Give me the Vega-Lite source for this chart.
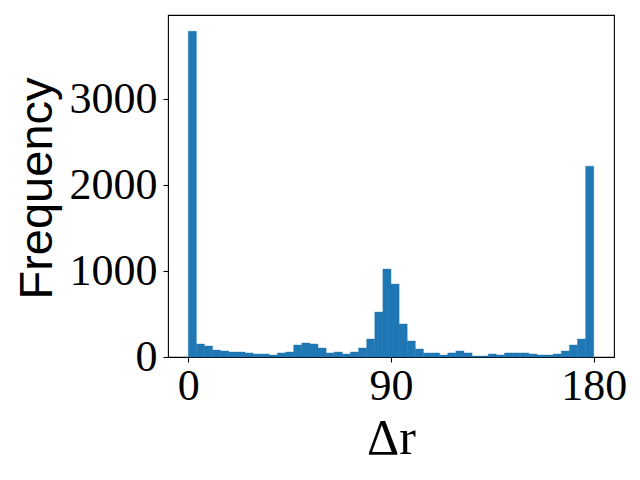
{
  "$schema": "https://vega.github.io/schema/vega-lite/v6.json",
  "autosize": "none",
  "width": 446,
  "height": 342,
  "padding": {"left": 168, "top": 15, "right": 26, "bottom": 123},
  "background": "white",
  "config": {"view": {"stroke": "black", "strokeWidth": 1.1}},
  "data": {"values": [
    {"start": 0, "end": 3.6, "count": 3791},
    {"start": 3.6, "end": 7.2, "count": 151},
    {"start": 7.2, "end": 10.8, "count": 128},
    {"start": 10.8, "end": 14.4, "count": 81},
    {"start": 14.4, "end": 18, "count": 70},
    {"start": 18, "end": 21.6, "count": 58},
    {"start": 21.6, "end": 25.2, "count": 58},
    {"start": 25.2, "end": 28.8, "count": 47},
    {"start": 28.8, "end": 32.4, "count": 35},
    {"start": 32.4, "end": 36, "count": 35},
    {"start": 36, "end": 39.6, "count": 23},
    {"start": 39.6, "end": 43.2, "count": 47},
    {"start": 43.2, "end": 46.8, "count": 58},
    {"start": 46.8, "end": 50.4, "count": 140},
    {"start": 50.4, "end": 54, "count": 163},
    {"start": 54, "end": 57.6, "count": 151},
    {"start": 57.6, "end": 61.2, "count": 105},
    {"start": 61.2, "end": 64.8, "count": 47},
    {"start": 64.8, "end": 68.4, "count": 58},
    {"start": 68.4, "end": 72, "count": 35},
    {"start": 72, "end": 75.6, "count": 58},
    {"start": 75.6, "end": 79.2, "count": 105},
    {"start": 79.2, "end": 82.8, "count": 209},
    {"start": 82.8, "end": 86.4, "count": 523},
    {"start": 86.4, "end": 90, "count": 1023},
    {"start": 90, "end": 93.6, "count": 849},
    {"start": 93.6, "end": 97.2, "count": 384},
    {"start": 97.2, "end": 100.8, "count": 186},
    {"start": 100.8, "end": 104.4, "count": 93},
    {"start": 104.4, "end": 108, "count": 47},
    {"start": 108, "end": 111.6, "count": 47},
    {"start": 111.6, "end": 115.2, "count": 23},
    {"start": 115.2, "end": 118.8, "count": 47},
    {"start": 118.8, "end": 122.4, "count": 70},
    {"start": 122.4, "end": 126, "count": 47},
    {"start": 126, "end": 129.6, "count": 12},
    {"start": 129.6, "end": 133.2, "count": 12},
    {"start": 133.2, "end": 136.8, "count": 35},
    {"start": 136.8, "end": 140.4, "count": 23},
    {"start": 140.4, "end": 144, "count": 47},
    {"start": 144, "end": 147.6, "count": 47},
    {"start": 147.6, "end": 151.2, "count": 47},
    {"start": 151.2, "end": 154.8, "count": 35},
    {"start": 154.8, "end": 158.4, "count": 23},
    {"start": 158.4, "end": 162, "count": 23},
    {"start": 162, "end": 165.6, "count": 35},
    {"start": 165.6, "end": 169.2, "count": 70},
    {"start": 169.2, "end": 172.8, "count": 140},
    {"start": 172.8, "end": 176.4, "count": 209},
    {"start": 176.4, "end": 180, "count": 2221}
  ]},
  "mark": {"type": "bar", "color": "#1f77b4", "stroke": "#1f77b4", "strokeWidth": 0.4},
  "encoding": {
    "x": {
      "field": "start", "type": "quantitative",
      "scale": {"domain": [-9, 189], "nice": false, "zero": false},
      "axis": {
        "title": "Δr", "values": [0, 90, 180], "grid": false, "domain": false,
        "tickColor": "black", "tickSize": 5, "tickWidth": 1.1,
        "labelFont": "Liberation Serif", "labelFontSize": 44, "labelColor": "black",
        "labelPadding": 2, "labelFlush": false, "labelOverlap": false,
        "titleFont": "Liberation Serif", "titleFontSize": 50, "titleFontWeight": "normal",
        "titleColor": "black", "titleBaseline": "alphabetic", "titleY": 96
      }
    },
    "x2": {"field": "end"},
    "y": {
      "field": "count", "type": "quantitative",
      "scale": {"domain": [0, 3980], "nice": false},
      "axis": {
        "title": "Frequency", "values": [0, 1000, 2000, 3000], "format": "d", "grid": false, "domain": false,
        "tickColor": "black", "tickSize": 5, "tickWidth": 1.1,
        "labelFont": "Liberation Serif", "labelFontSize": 44, "labelColor": "black",
        "labelPadding": 6, "labelFlush": false, "labelOverlap": false,
        "titleFont": "Liberation Sans", "titleFontSize": 47, "titleFontWeight": "normal",
        "titleColor": "black", "titleBaseline": "alphabetic", "titleX": -117, "titleY": 173
      }
    },
    "y2": {"datum": 0}
  }
}
